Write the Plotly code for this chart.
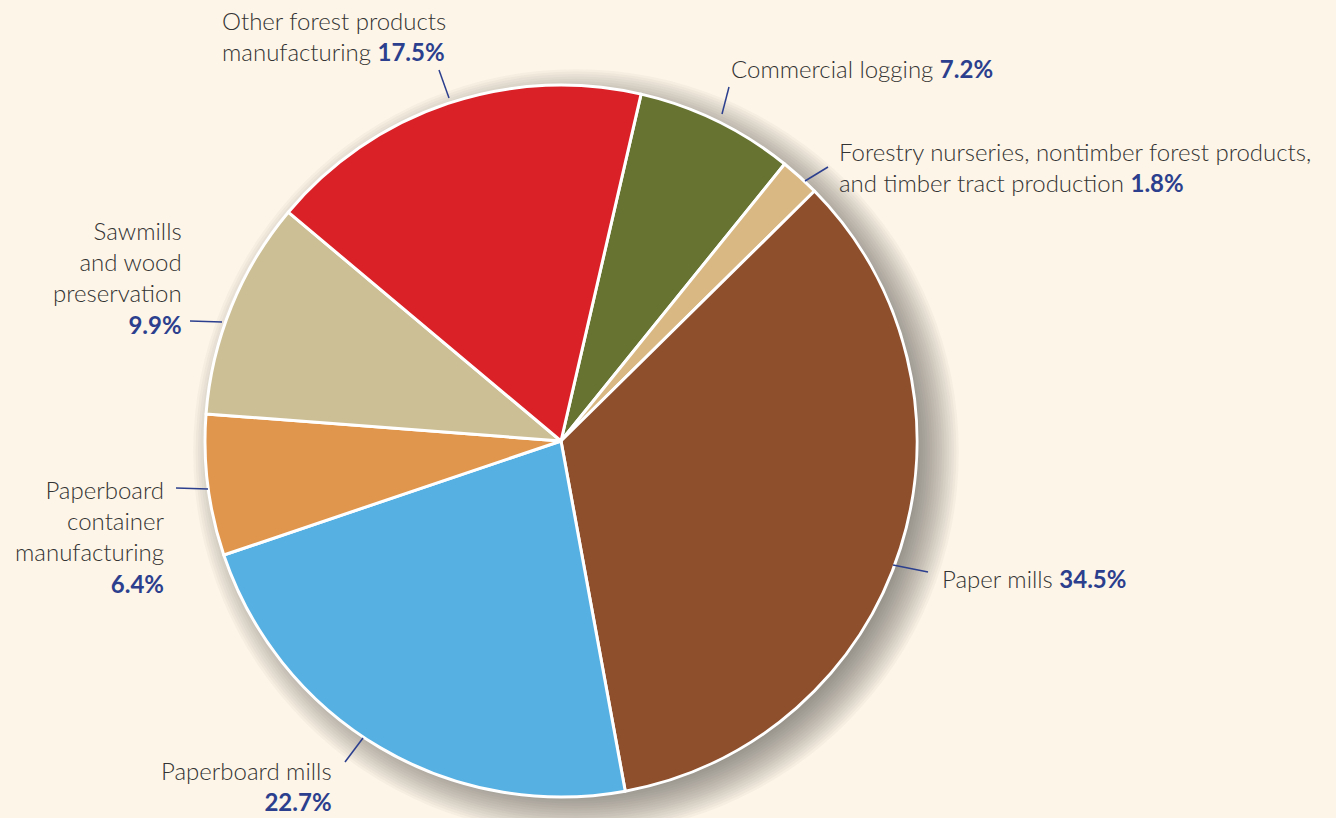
import plotly.graph_objects as go

# Share of the forest products sector, by industry (%)
categories = [
    "Commercial logging",
    "Forestry nurseries, nontimber forest products, and timber tract production",
    "Paper mills",
    "Paperboard mills",
    "Paperboard container manufacturing",
    "Sawmills and wood preservation",
    "Other forest products manufacturing",
]
shares = [7.2, 1.8, 34.5, 22.7, 6.4, 9.9, 17.5]
slice_colors = ["#677331", "#D9B883", "#8E4F2D", "#57B0E2", "#E0964C", "#CDBF95", "#DA2128"]

# Wrapped label text for each category (same order as above)
label_lines = [
    ["Commercial logging"],
    ["Forestry nurseries, nontimber forest products,", "and timber tract production"],
    ["Paper mills"],
    ["Paperboard mills", ""],
    ["Paperboard", "container", "manufacturing", ""],
    ["Sawmills", "and wood", "preservation", ""],
    ["Other forest products", "manufacturing"],
]

W, H = 1336, 818
BG = "#FDF5E7"
PCT_COLOR = "#2B3F8E"
TEXT_COLOR = "#333333"
FONT = "Lato"
FONT_SIZE = 24

# Pie placement in pixels
CX, CY, R = 561, 441, 356

def px(x):
    return x / W

def py(y):
    return 1 - y / H

# Label placement: (x, y, xanchor, align) in pixels, and leader line (x0, y0, x1, y1)
label_pos = [
    (729, 68, "left", "left"),
    (837, 167, "left", "left"),
    (940, 578, "left", "left"),
    (334, 786, "right", "right"),
    (167, 536, "right", "right"),
    (184, 277, "right", "right"),
    (220, 36, "left", "left"),
]
leaders = [
    (729, 87, 722, 114),
    (828, 167, 805, 181),
    (893, 565, 928, 572),
    (363, 738, 345, 762),
    (176, 488, 208, 489),
    (190, 321, 222, 322),
    (439, 70, 449, 98),
]

fig = go.Figure()

fig.add_trace(go.Pie(
    labels=categories,
    values=shares,
    sort=False,
    direction="clockwise",
    rotation=13,
    marker=dict(colors=slice_colors, line=dict(color="white", width=3)),
    textinfo="none",
    hoverinfo="label+percent",
    showlegend=False,
    domain=dict(x=[px(CX - R), px(CX + R)], y=[py(CY + R), py(CY - R)]),
))

shapes = []
# Soft drop shadow: stacked translucent discs offset to the lower right
for k in range(18):
    r = R - 14 + k * 2.4
    ox, oy = 15, 11
    shapes.append(dict(
        type="circle", xref="paper", yref="paper", layer="below",
        x0=px(CX + ox - r), x1=px(CX + ox + r),
        y0=py(CY + oy + r), y1=py(CY + oy - r),
        fillcolor="rgba(70,62,48,0.035)", line=dict(width=0),
    ))

# Leader lines
for (x0, y0, x1, y1) in leaders:
    shapes.append(dict(
        type="line", xref="paper", yref="paper",
        x0=px(x0), y0=py(y0), x1=px(x1), y1=py(y1),
        line=dict(color=PCT_COLOR, width=1.5),
    ))

annotations = []
for lines, val, (x, y, xa, al) in zip(label_lines, shares, label_pos):
    pct = f"<b><span style='color:{PCT_COLOR}'>{val:.1f}%</span></b>"
    parts = list(lines)
    if parts[-1] == "":
        parts[-1] = pct
    else:
        parts[-1] = parts[-1] + " " + pct
    annotations.append(dict(
        x=px(x), y=py(y), xref="paper", yref="paper",
        xanchor=xa, yanchor="middle", align=al,
        text="<br>".join(parts), showarrow=False,
        font=dict(family=FONT, size=FONT_SIZE, color=TEXT_COLOR, weight=300),
    ))

fig.update_layout(
    width=W, height=H,
    margin=dict(l=0, r=0, t=0, b=0),
    paper_bgcolor=BG, plot_bgcolor=BG,
    shapes=shapes, annotations=annotations,
)

fig.write_html("out.html")
